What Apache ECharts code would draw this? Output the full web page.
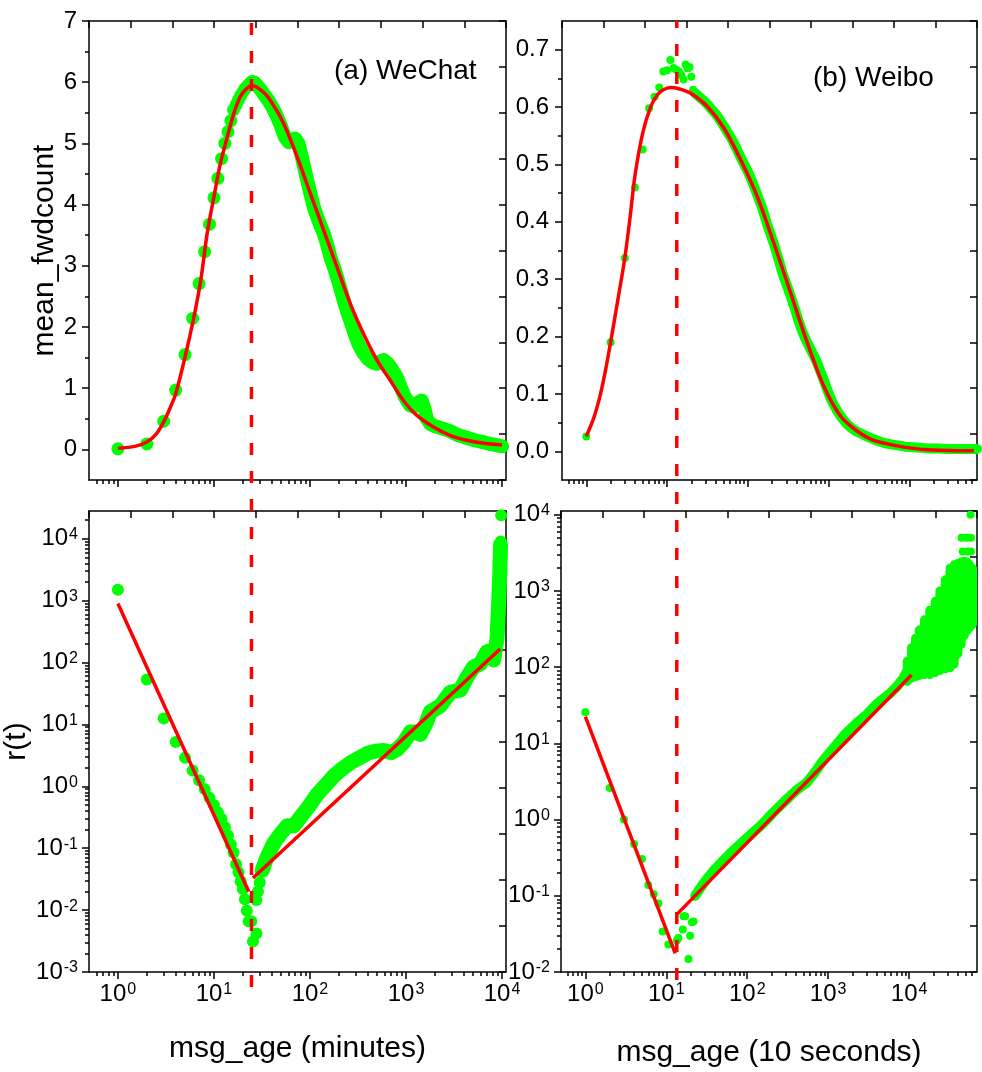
<!DOCTYPE html>
<html><head><meta charset="utf-8">
<script src="https://cdn.jsdelivr.net/npm/echarts@6/dist/echarts.min.js"></script>
<style>html,body{margin:0;padding:0;background:#fff}#c{width:982px;height:1072px}</style>
</head><body><div id="c"></div>
<script>
// ---------------- DATA ----------------
// (a) WeChat, mean_fwdcount: individual points at small ages
const wcTopX = [1,2,3,4,5,6,7,8,9,10,11,12,13,14,15,16,17,18,19,20,21,22,23,24,25];
const wcTopY = [0.01,0.09,0.46,0.97,1.55,2.14,2.71,3.23,3.68,4.11,4.43,4.75,5.0,5.19,5.37,5.55,5.63,5.71,5.78,5.84,5.89,5.93,5.96,5.99,6.01];
// dense band of points (merged dots) for larger ages
const wcBand = [[26,6.0],[28,5.95],[31,5.87],[34,5.78],[37,5.70],[41,5.58],[45,5.45],[50,5.28],[55,5.10],[60,5.02],[65,5.05],[70,5.08],[76,5.00],[83,4.75],[92,4.45],[101,4.18],[110,3.95],[120,3.78],[130,3.64],[139,3.53],[150,3.36],[165,3.12],[180,2.95],[191,2.82],[210,2.60],[230,2.38],[250,2.20],[263,2.11],[290,1.90],[320,1.72],[361,1.57],[400,1.48],[450,1.42],[498,1.40],[540,1.44],[587,1.46],[650,1.40],[720,1.30],[802,1.18],[880,1.02],[960,0.88],[1040,0.78],[1100,0.72],[1200,0.70],[1320,0.76],[1459,0.80],[1560,0.66],[1650,0.50],[1780,0.42],[2000,0.38],[2400,0.34],[2870,0.30],[3400,0.24],[4270,0.19],[5200,0.15],[6330,0.12],[7500,0.09],[8700,0.07],[10000,0.05]];
const wcFit = [[1,0.02],[1.5,0.05],[2,0.12],[2.5,0.25],[3,0.45],[3.5,0.68],[4,0.91],[5,1.51],[6.2,2.17],[7.3,2.77],[8.5,3.53],[10,4.13],[11.7,4.68],[13.8,5.11],[16.1,5.49],[18.9,5.77],[22,5.90],[25,5.94],[28,5.92],[36,5.77],[53,5.33],[73.5,4.78],[101,4.18],[139,3.58],[191,2.98],[263,2.38],[361,1.89],[498,1.46],[684,1.13],[940,0.80],[1290,0.56],[1930,0.365],[2870,0.23],[4270,0.15],[6500,0.10],[10000,0.07]];

// (b) Weibo, mean_fwdcount
const wbTopX = [1,2,3,4,5,6,7,8,9,10,11,12,13,14,15,16,17,18,19,20,21];
const wbTopY = [0.026,0.19,0.337,0.46,0.526,0.598,0.618,0.634,0.662,0.664,0.682,0.668,0.665,0.662,0.656,0.648,0.674,0.667,0.67,0.653,0.63];
const wbBand = [[22,0.625],[25,0.618],[28,0.612],[32,0.604],[36,0.595],[40,0.588],[45,0.578],[50,0.568],[56,0.556],[63,0.545],[70,0.532],[80,0.515],[90,0.500],[100,0.488],[115,0.468],[130,0.448],[150,0.425],[170,0.400],[190,0.380],[210,0.362],[240,0.335],[270,0.310],[300,0.292],[340,0.270],[380,0.250],[420,0.230],[470,0.210],[520,0.195],[580,0.182],[650,0.168],[720,0.155],[800,0.138],[880,0.123],[960,0.108],[1050,0.094],[1150,0.082],[1300,0.069],[1450,0.059],[1650,0.049],[1900,0.041],[2200,0.035],[2600,0.030],[3000,0.026],[3600,0.021],[4300,0.017],[5000,0.014],[6000,0.012],[7500,0.010],[9000,0.008],[11000,0.007],[14000,0.006],[18000,0.005],[23000,0.005],[30000,0.004],[40000,0.004],[50000,0.004],[60000,0.004],[69000,0.004]];
const wbFit = [[1,0.026],[1.25,0.06],[1.5,0.10],[1.75,0.145],[2,0.19],[2.5,0.27],[3,0.337],[3.5,0.41],[4,0.48],[5,0.555],[6.25,0.600],[7.57,0.621],[9,0.630],[11,0.634],[14,0.632],[19.6,0.624],[31.5,0.601],[50.7,0.563],[81.5,0.508],[131,0.444],[210,0.363],[339,0.276],[546,0.189],[877,0.113],[1413,0.061],[2270,0.035],[3500,0.020],[5880,0.0117],[10000,0.006],[15150,0.003],[30000,0.0015],[63000,0.001]];

// (a) WeChat, r(t)
const wcRX = [1,2,3,4,5,6,7,8,9,10,11,12,13,14,15,16,17,18,19,20,21,22,23];
const wcRY = [1500,53,12.5,5.2,2.9,1.8,1.25,0.9,0.65,0.5,0.38,0.3,0.22,0.16,0.115,0.085,0.055,0.041,0.029,0.022,0.015,0.0098,0.0066];
const wcRValley = [[24.5,0.0066],[25.5,0.0031],[27.7,0.0042],[27.7,0.0145],[28.7,0.02],[30,0.028],[9800,24000],[9700,9000]];
const wcRBand = [[31.8,0.044],[35.9,0.073],[41.9,0.12],[49.3,0.17],[57.9,0.23],[67.9,0.23],[80,0.32],[97,0.47],[119,0.74],[150,1.1],[177,1.47],[220,1.95],[264,2.4],[330,2.9],[394,3.4],[480,3.7],[586,3.8],[700,3.5],[800,3.9],[948,5.1],[1110,7.5],[1250,7.5],[1413,6.9],[1600,10],[1795,16],[2280,20],[2900,33],[3680,36],[4330,58],[5070,85],[5940,95],[6980,150],[8190,110],[8870,240],[9220,900],[9500,3000],[9650,8000]];
const wcRFit1 = [[1,900],[23,0.02]];
const wcRFit2 = [[25.5,0.033],[9560,165]];

// (b) Weibo, r(t)
const wbRX = [1,2,3,4,5,6,7,8,9,10.6];
const wbRY = [25.6,2.6,1.0,0.48,0.305,0.139,0.105,0.079,0.034,0.023];
const wbRValley = [[13.5,0.026],[14.1,0.028],[16,0.036],[16.3,0.054],[17.1,0.054],[18.8,0.0148],[19.7,0.03],[20.7,0.045],[21.7,0.046],[13100,300],[44500,5000],[51000,5000],[58000,5000],[46000,3300],[53000,3300],[58000,3300],[57500,10000],[31700,2000]];
const wbRBand = [[22.7,0.1],[28.8,0.145],[38,0.21],[50.7,0.29],[70,0.41],[98.6,0.57],[150,0.85],[210,1.24],[300,1.8],[400,2.4],[542,3.05],[700,4.3],[869,5.97],[1200,9],[1600,13],[2240,18.3],[3000,24],[4000,33],[5760,45],[7000,55],[8410,70],[9500,90]];
const wbCloudX    = [9500,10700,12000,13500,15500,18000,21000,24000,28000,32000,36000,40000,44000,48000,52000,56000,60000,64000,67000];
const wbCloudLow  = [65,72,75,78,80,80,85,90,95,98,110,150,200,260,300,330,360,400,420];
const wbCloudHigh = [120,180,240,310,420,560,730,1000,1400,1800,2200,2300,2400,2460,2400,2200,2000,1830,1500];
const wbRFit1 = [[1,22.4],[12.9,0.0175]];
const wbRFit2 = [[13.5,0.057],[10700,79]];

// peak positions (dashed lines)
const peakT = [24.6, 13.2];

// axis tick labels
const wcMeanTicks = [0,1,2,3,4,5,6,7];
const wbMeanTicks = [0,0.1,0.2,0.3,0.4,0.5,0.6,0.7];

// ---------------- HELPERS ----------------
const G = '#00ff00', R = '#ff0000', K = '#000';
const FF = 'Liberation Sans, Arial, sans-serif';
function decades(lo, hi){ const a=[]; for(let e=Math.ceil(Math.log10(lo)-1e-9); Math.pow(10,e)<=hi*1.0000001; e++) a.push(Math.pow(10,e)); return a; }
function minorLog(lo, hi){ const a=[]; for(let e=Math.floor(Math.log10(lo))-1; e<=Math.ceil(Math.log10(hi)); e++){ for(let m=2;m<=9;m++){ const v=m*Math.pow(10,e); if(v>lo*1.0001 && v<hi*0.9999) a.push(v);} } return a; }
const lineS = {color:K, width:1.5};
const supRich = { b:{fontSize:24, fontFamily:FF, color:K}, s:{fontSize:16, fontFamily:FF, color:K, verticalAlign:'top', padding:[0,0,0,1]} };
const powFmt = v => '{b|10}{s|' + Math.round(Math.log10(v)) + '}';

const xAxes = [], yAxes = [], grids = [];
function addPanel(g, xr, yr){
  grids.push(g);
  const gi = grids.length-1;
  xAxes.push({type:'log', gridIndex:gi, position:'bottom', min:xr.min, max:xr.max,
    axisLine:{show:true, onZero:false, lineStyle:lineS},
    axisTick:{show:true, length:7, lineStyle:lineS, customValues:decades(xr.min,xr.max)},
    axisLabel:{show:!!xr.labels, customValues:decades(xr.min,xr.max), formatter:powFmt, rich:supRich, margin:10},
    splitLine:{show:false}, minorTick:{show:false},
    name:xr.name||'', nameLocation:'middle', nameGap:xr.nameGap||0,
    nameTextStyle:{fontSize:30, fontFamily:FF, color:K}});
  xAxes.push({type:'log', gridIndex:gi, position:'bottom', min:xr.min, max:xr.max,
    axisLine:{show:false, onZero:false}, axisTick:{show:true, length:4, lineStyle:lineS, customValues:minorLog(xr.min,xr.max)},
    axisLabel:{show:false}, splitLine:{show:false}});
  xAxes.push({type:'value', gridIndex:gi, position:'top', min:0, max:10, interval:1,
    axisLine:{show:true, onZero:false, lineStyle:lineS}, axisTick:{show:true, inside:true, length:7, lineStyle:lineS},
    axisLabel:{show:false}, splitLine:{show:false}});
  yAxes.push({type:yr.type, gridIndex:gi, position:'left', min:yr.min, max:yr.max,
    axisLine:{show:true, onZero:false, lineStyle:lineS},
    axisTick:{show:true, length:7, lineStyle:lineS, customValues:yr.ticks},
    axisLabel:{show:true, customValues:yr.ticks, formatter:yr.fmt, margin:yr.margin||11, fontSize:24, fontFamily:FF, color:K, rich:supRich},
    splitLine:{show:false}, minorTick:{show:false},
    name:yr.name||'', nameLocation:'middle', nameGap:yr.nameGap||0, nameRotate:90,
    nameTextStyle:{fontSize:30, fontFamily:FF, color:K}});
  yAxes.push({type:yr.type, gridIndex:gi, position:'left', min:yr.min, max:yr.max,
    axisLine:{show:false, onZero:false}, axisTick:{show:true, length:4, lineStyle:lineS, customValues:yr.minor},
    axisLabel:{show:false}, splitLine:{show:false}});
  yAxes.push({type:'value', gridIndex:gi, position:'right', min:0, max:10, interval:1,
    axisLine:{show:true, onZero:false, lineStyle:lineS}, axisTick:{show:true, inside:true, length:7, lineStyle:lineS},
    axisLabel:{show:false}, splitLine:{show:false}});
  return 3*gi;
}

const XL = {min:0.5, max:11000}, XR = {min:0.5, max:69000};
const p0 = addPanel({left:89, top:21, width:417, height:459},
  Object.assign({}, XL),
  {type:'value', min:-0.5, max:7, ticks:wcMeanTicks, minor:[0.5,1.5,2.5,3.5,4.5,5.5,6.5], fmt:v=>String(v), name:'mean_fwdcount', nameGap:28, margin:12});
const p1 = addPanel({left:562, top:21, width:415, height:459},
  Object.assign({}, XR),
  {type:'value', min:-0.05, max:0.75, ticks:wbMeanTicks, minor:[0.05,0.15,0.25,0.35,0.45,0.55,0.65], fmt:v=>v.toFixed(1), margin:13});
const p2 = addPanel({left:89, top:511, width:417, height:461},
  Object.assign({labels:true, name:'msg_age (minutes)', nameGap:62}, XL),
  {type:'log', min:0.001, max:28000, ticks:decades(0.001,28000), minor:minorLog(0.001,28000), fmt:powFmt, name:'r(t)', nameGap:56, margin:11});
const p3 = addPanel({left:561, top:511, width:416, height:461},
  Object.assign({labels:true, name:'msg_age (10 seconds)', nameGap:66}, XR),
  {type:'log', min:0.01, max:11200, ticks:decades(0.01,11200), minor:minorLog(0.01,11200), fmt:powFmt, margin:11});

// overlay grids for the dashed peak lines spanning both rows
grids.push({left:89, top:21, width:417, height:966});
xAxes.push({type:'log', gridIndex:4, min:XL.min, max:XL.max, show:false});
yAxes.push({type:'value', gridIndex:4, min:0, max:1, show:false});
grids.push({left:562, top:21, width:415, height:959});
xAxes.push({type:'log', gridIndex:5, min:XR.min, max:XR.max, show:false});
yAxes.push({type:'value', gridIndex:5, min:0, max:1, show:false});

const zip = (xs, ys) => xs.map((x,i)=>[x, ys[i]]);
const dots = (ai, data, size) => ({type:'scatter', xAxisIndex:ai, yAxisIndex:ai, data, symbol:'circle', symbolSize:size, itemStyle:{color:G, opacity:1}, silent:true, z:2});
const band = (ai, data, w, size) => ({type:'line', xAxisIndex:ai, yAxisIndex:ai, data, showSymbol:true, symbol:'circle', symbolSize:size, itemStyle:{color:G}, lineStyle:{color:G, width:w, cap:'round', join:'round'}, silent:true, z:2});
const fit = (ai, data, smooth) => ({type:'line', xAxisIndex:ai, yAxisIndex:ai, data, showSymbol:false, smooth:smooth, lineStyle:{color:R, width:3.5}, silent:true, z:3});

const series = [
  dots(p0, zip(wcTopX, wcTopY), 13), band(p0, wcBand, 14, 13), fit(p0, wcFit, 0.3),
  dots(p1, zip(wbTopX, wbTopY), 8), band(p1, wbBand, 10, 8), fit(p1, wbFit, 0.3),
  dots(p2, zip(wcRX, wcRY), 12), dots(p2, wcRValley, 12), band(p2, wcRBand, 15, 12), fit(p2, wcRFit1, false), fit(p2, wcRFit2, false),
  dots(p3, zip(wbRX, wbRY), 8), dots(p3, wbRValley, 8), band(p3, wbRBand, 10, 8),
  {type:'custom', xAxisIndex:p3, yAxisIndex:p3, silent:true, z:2, clip:true,
   data: wbCloudX.map((x,i)=>[x, wbCloudLow[i], wbCloudHigh[i]]),
   encode:{x:0, y:[1,2]},
   renderItem:(params, api)=>{
     const a = api.coord([api.value(0), api.value(1)]);
     const b = api.coord([api.value(0), api.value(2)]);
     return {type:'line', shape:{x1:a[0], y1:a[1], x2:b[0], y2:b[1]}, style:{stroke:G, lineWidth:9, lineCap:'round'}};
   }},
  fit(p3, wbRFit1, false), fit(p3, wbRFit2, false),
  {type:'line', xAxisIndex:12, yAxisIndex:12, data:[[peakT[0],0],[peakT[0],1]], showSymbol:false, lineStyle:{color:R, width:3.5, type:[12,16]}, silent:true, z:5},
  {type:'line', xAxisIndex:13, yAxisIndex:13, data:[[peakT[1],0],[peakT[1],1]], showSymbol:false, lineStyle:{color:R, width:3.5, type:[12,16]}, silent:true, z:5}
];

const chart = echarts.init(document.getElementById('c'), null, {renderer:'canvas'});
chart.setOption({
  animation:false,
  backgroundColor:'#fff',
  title:[
    {text:'(a) WeChat', left:334, top:57, padding:0, textStyle:{fontSize:28, fontWeight:'normal', fontFamily:FF, color:K}},
    {text:'(b) Weibo', left:813, top:64, padding:0, textStyle:{fontSize:28, fontWeight:'normal', fontFamily:FF, color:K}}
  ],
  grid:grids, xAxis:xAxes, yAxis:yAxes, series
});
</script></body></html>
